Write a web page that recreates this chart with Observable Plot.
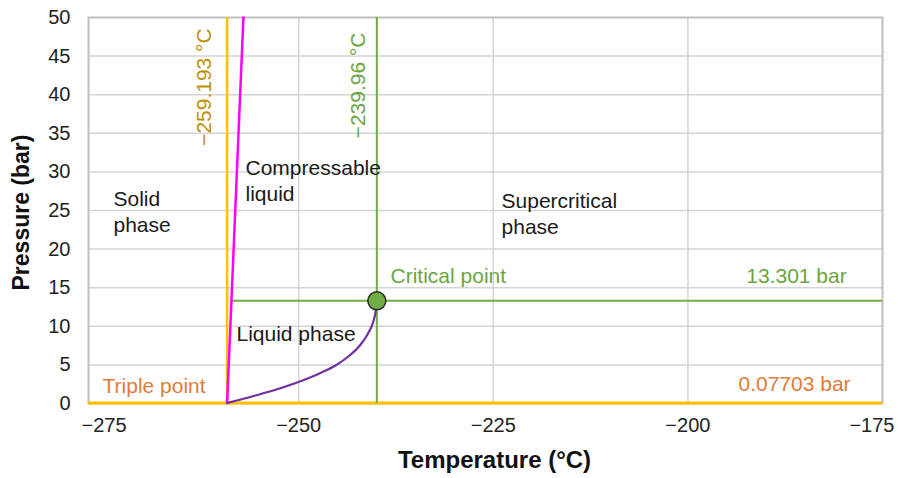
<!DOCTYPE html>
<html>
<head>
<meta charset="utf-8">
<script src="https://cdn.jsdelivr.net/npm/d3@7"></script>
<script src="https://cdn.jsdelivr.net/npm/@observablehq/plot@0.6"></script>
<style>
  html, body { margin: 0; padding: 0; background: #fff; }
  #chart svg { display: block; }
</style>
</head>
<body>
<div id="chart"></div>
<script>
// ---- data ----
const tempDomain = [-277, -175];
const pressureDomain = [0, 50];
const xTicks = [-275, -250, -225, -200];
const xTickLast = [-175];
const xGrid = [-250, -225, -200];
const yTicks = [0, 5, 10, 15, 20, 25, 30, 35, 40, 45, 50];
const yGrid = [5, 10, 15, 20, 25, 30, 35, 40, 45];

const tripleT = -259.193;
const tripleP = 0.07703;
const criticalT = -239.96;
const criticalP = 13.301;

// melting (solid/liquid) line
const meltT = [-259.193, -257.1];
const meltP = [0.07703, 50];

// vapour pressure curve
const vapT = [-259.193, -255.55, -252.46, -249.51, -247.20, -245.27, -243.47, -242.19, -241.16, -240.45, -240.13, -239.96];
const vapP = [0.07703, 1.04, 1.94, 2.98, 3.95, 4.92, 6.22, 7.45, 8.94, 10.49, 11.83, 13.301];

// region labels
const regionText = ["Solid\nphase", "Compressable\nliquid", "Supercritical\nphase", "Liquid phase"];
const regionT = [-273.79, -256.83, -223.94, -257.99];
const regionP = [27.85, 31.87, 27.6, 10.36];

const meltLine = meltT.map((t, i) => ({T: t, P: meltP[i]}));
const vapLine = vapT.map((t, i) => ({T: t, P: vapP[i]}));
const regions = regionText.map((s, i) => ({text: s, T: regionT[i], P: regionP[i]}));

const font = "'Liberation Sans', Arial, Helvetica, sans-serif";
const gold = "#FFC000", goldText = "#BF9000";
const green = "#70AD47", greenText = "#6AA540";
const orangeText = "#E07B39";

const chart = Plot.plot({
  width: 898,
  height: 478,
  marginLeft: 88,
  marginRight: 16,
  marginTop: 17,
  marginBottom: 75,
  style: {fontFamily: font, fontSize: "20px", color: "#222", background: "#fff"},
  x: {domain: tempDomain, label: null},
  y: {domain: pressureDomain, label: null},
  marks: [
    Plot.gridX(xGrid, {stroke: "#D4D4D4", strokeOpacity: 1, strokeWidth: 1.5}),
    Plot.gridY(yGrid, {stroke: "#D4D4D4", strokeOpacity: 1, strokeWidth: 1.5}),
    Plot.frame({stroke: "#BFBFBF", strokeWidth: 2}),
    Plot.axisX(xTicks, {tickSize: 0, tickPadding: 14, tickFormat: d3.format("d"), fontSize: 20, fill: "#222", label: null}),
    Plot.axisX(xTickLast, {tickSize: 0, tickPadding: 14, tickFormat: d3.format("d"), fontSize: 20, fill: "#222", textAnchor: "end", dx: 12, label: null}),
    Plot.axisY(yTicks, {tickSize: 0, tickPadding: 18, fontSize: 20, fill: "#222", label: null}),
    // axis titles
    Plot.text(["Temperature (°C)"], {frameAnchor: "bottom", textAnchor: "middle", dy: 64, dx: 9, fontSize: 24, fontWeight: "bold", fill: "#111"}),
    Plot.text(["Pressure (bar)"], {frameAnchor: "left", textAnchor: "middle", dx: -67, dy: 2, rotate: -90, fontSize: 23, fontWeight: "bold", fill: "#111"}),
    // triple point lines
    Plot.ruleY([tripleP], {x1: tempDomain[0], x2: tempDomain[1], stroke: gold, strokeWidth: 3}),
    Plot.ruleX([tripleT], {y1: pressureDomain[0], y2: pressureDomain[1], stroke: gold, strokeWidth: 2.5}),
    // critical point lines
    Plot.ruleX([criticalT], {y1: pressureDomain[0], y2: pressureDomain[1], stroke: green, strokeWidth: 2}),
    Plot.ruleY([criticalP], {x1: -258.64, x2: tempDomain[1], stroke: green, strokeWidth: 2}),
    // melting line
    Plot.line(meltLine, {x: "T", y: "P", stroke: "#FF00FF", strokeWidth: 2.5}),
    // vapour curve
    Plot.line(vapLine, {x: "T", y: "P", stroke: "#7030A0", strokeWidth: 2.2, curve: "monotone-x"}),
    // critical point
    Plot.dot([{T: criticalT, P: criticalP}], {x: "T", y: "P", r: 9, fill: green, stroke: "#262626", strokeWidth: 1.5}),
    // region labels
    Plot.text(regions, {x: "T", y: "P", text: "text", textAnchor: "start", lineAnchor: "top", lineHeight: 1.2, fontSize: 21, fill: "#1a1a1a"}),
    // annotations
    Plot.text(["Critical point"], {x: -238.2, y: 17.49, textAnchor: "start", lineAnchor: "top", fontSize: 21, fill: greenText}),
    Plot.text(["13.301 bar"], {x: -179.6, y: 17.49, textAnchor: "end", lineAnchor: "top", fontSize: 21, fill: greenText}),
    Plot.text(["0.07703 bar"], {x: -179.1, y: 3.5, textAnchor: "end", lineAnchor: "top", fontSize: 21, fill: orangeText}),
    Plot.text(["Triple point"], {x: -275.2, y: 3.24, textAnchor: "start", lineAnchor: "top", fontSize: 21, fill: orangeText}),
    Plot.text(["\u2212259.193 °C"], {x: -262.1, y: 48.6, rotate: -90, textAnchor: "end", lineAnchor: "middle", fontSize: 21, fill: goldText}),
    Plot.text(["\u2212239.96 °C"], {x: -242.31, y: 48.06, rotate: -90, textAnchor: "end", lineAnchor: "middle", fontSize: 21, fill: greenText})
  ]
});
document.getElementById("chart").appendChild(chart);
</script>
</body>
</html>
